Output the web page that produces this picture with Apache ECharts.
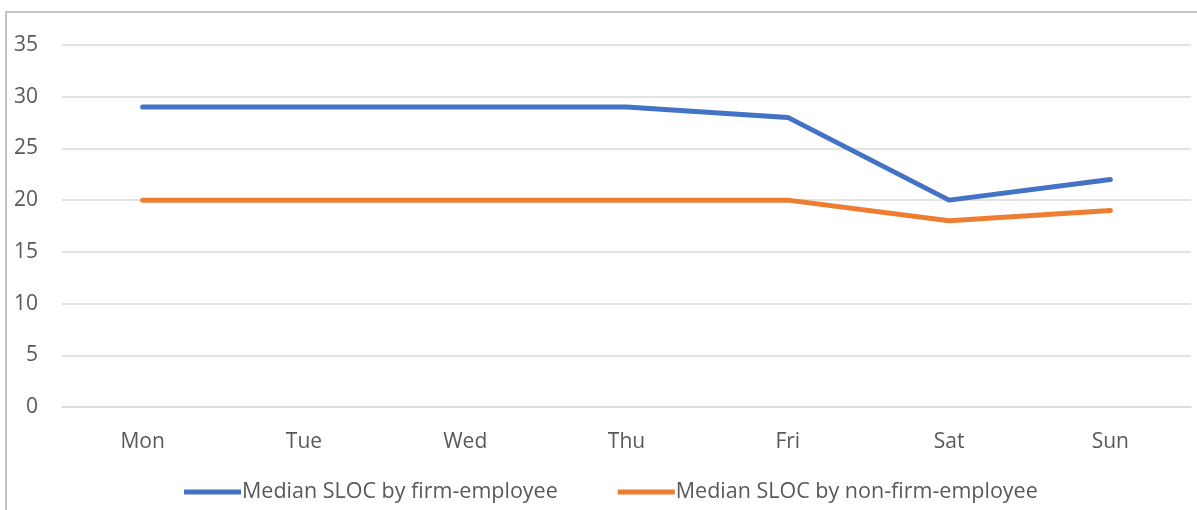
<!DOCTYPE html>
<html><head><meta charset="utf-8">
<script src="https://cdn.jsdelivr.net/npm/echarts@6/dist/echarts.min.js"></script>
<style>html,body{margin:0;padding:0;background:#fff}#c{width:1197px;height:510px}</style>
</head><body><div id="c"></div>
<script>
const categories = ['Mon','Tue','Wed','Thu','Fri','Sat','Sun'];
const firmEmployee = [29,29,29,29,28,20,22];
const nonFirmEmployee = [20,20,20,20,20,18,19];
const seriesNames = ['Median SLOC by firm-employee','Median SLOC by non-firm-employee'];

const chart = echarts.init(document.getElementById('c'));
const font = 'Open Sans, Liberation Sans, sans-serif';
chart.setOption({
  animation:false,
  graphic:[{type:'rect',shape:{x:6,y:12,width:1200,height:520},style:{fill:'none',stroke:'#C4C4C4',lineWidth:2},silent:true}],
  grid:{left:62,right:6,top:45,bottom:103,containLabel:false},
  legend:{bottom:2,left:179,itemWidth:57,itemHeight:5,itemGap:60,icon:'rect',
    textStyle:{color:'#595959',fontSize:21.5,fontFamily:font,padding:[0,0,0,-4]},
    data:seriesNames},
  xAxis:{type:'category',data:categories,boundaryGap:true,
    axisLine:{show:true,lineStyle:{color:'#D9D9D9',width:1.5}},axisTick:{show:false},
    axisLabel:{color:'#595959',fontSize:21,fontFamily:font,margin:25}},
  yAxis:{type:'value',min:0,max:35,interval:5,
    axisLine:{show:false},axisTick:{show:false},
    splitLine:{lineStyle:{color:'#D9D9D9',width:1.5}},
    axisLabel:{color:'#595959',fontSize:21,fontFamily:font,margin:24}},
  series:[
    {name:seriesNames[0],type:'line',data:firmEmployee,symbol:'none',lineStyle:{color:'#4472C4',width:5,cap:'round',join:'round'},itemStyle:{color:'#4472C4'}},
    {name:seriesNames[1],type:'line',data:nonFirmEmployee,symbol:'none',lineStyle:{color:'#ED7D31',width:5,cap:'round',join:'round'},itemStyle:{color:'#ED7D31'}}
  ]
});
</script></body></html>
